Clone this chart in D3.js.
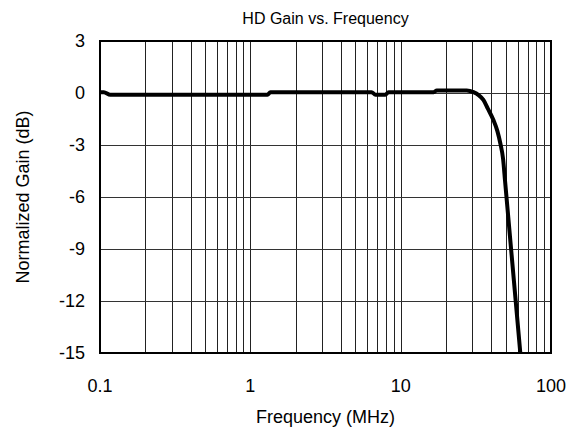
<!DOCTYPE html>
<html>
<head>
<meta charset="utf-8">
<script src="https://cdn.jsdelivr.net/npm/d3@7"></script>
<style>
  body { margin: 0; background: #fff; }
  text { font-family: "Liberation Sans", Arial, sans-serif; fill: #000; }
</style>
</head>
<body>
<div class="chart"></div>
<script>

// Data
var frequency = [0.1, 0.106, 0.117, 0.3, 1.0, 1.3, 1.36, 3, 6.4, 6.8, 7.9, 8.3, 12, 16.6, 17.4, 22, 27.5, 30.5, 33, 35.5, 38, 41.4, 44, 46, 48, 49.5, 62.5];
var gain = [0.05, 0.05, -0.1, -0.1, -0.1, -0.1, 0.05, 0.05, 0.05, -0.1, -0.1, 0.05, 0.05, 0.05, 0.15, 0.15, 0.15, 0.05, -0.12, -0.4, -0.9, -1.56, -2.2, -2.9, -3.8, -5.1, -15];

var gainTicks = [3, 0, -3, -6, -9, -12, -15];
var freqTicks = [0.1, 1, 10, 100];
var freqTickLabels = ["0.1", "1", "10", "100"];

// Define dimensions
var w = 579;
var h = 434;
var margin = {top: 41, right: 28, bottom: 81, left: 100};
var plotWidth = w - margin.left - margin.right;
var plotHeight = h - margin.top - margin.bottom;

var svg = d3.select(".chart")
  .append("svg")
  .attr("width", w)
  .attr("height", h);

var plot = svg.append("g")
  .attr("transform", "translate(" + margin.left + "," + margin.top + ")");

// Scales
var x = d3.scaleLog()
  .domain([0.1, 100])
  .range([0, plotWidth]);

var y = d3.scaleLinear()
  .domain([-15, 3])
  .range([plotHeight, 0]);

// Grid values for every decade (1..9 times the decade)
var gridFreqs = [];
[0.1, 1, 10].forEach(function(decade) {
    for (var i = 2; i <= 9; i++) {
        gridFreqs.push(decade * i);
    }
});
gridFreqs = gridFreqs.concat([1, 10]);

// Vertical grid lines
plot.selectAll(".vgrid")
  .data(gridFreqs)
  .enter()
  .append("line")
  .attr("class", "vgrid")
  .attr("x1", function(d) { return Math.round(x(d)) + 0.5; })
  .attr("x2", function(d) { return Math.round(x(d)) + 0.5; })
  .attr("y1", 0)
  .attr("y2", plotHeight)
  .style("stroke", "#222")
  .style("stroke-width", 1);

// Horizontal grid lines
plot.selectAll(".hgrid")
  .data(gainTicks.slice(1, -1))
  .enter()
  .append("line")
  .attr("class", "hgrid")
  .attr("x1", 0)
  .attr("x2", plotWidth)
  .attr("y1", function(d) { return Math.round(y(d)) + 0.5; })
  .attr("y2", function(d) { return Math.round(y(d)) + 0.5; })
  .style("stroke", "#333")
  .style("stroke-width", 1);

// Plot border
plot.append("rect")
  .attr("x", 0)
  .attr("y", 0)
  .attr("width", plotWidth)
  .attr("height", plotHeight)
  .style("fill", "none")
  .style("stroke", "#000")
  .style("stroke-width", 2);

// Gain curve
var data = frequency.map(function(f, i) { return {f: f, g: gain[i]}; });

var line = d3.line()
  .x(function(d) { return x(d.f); })
  .y(function(d) { return y(d.g); })
  .curve(d3.curveMonotoneX);

plot.append("path")
  .datum(data)
  .attr("d", line)
  .style("fill", "none")
  .style("stroke", "#000")
  .style("stroke-width", 4)
  .style("stroke-linejoin", "round");

// Y tick labels
plot.selectAll(".ylabel")
  .data(gainTicks)
  .enter()
  .append("text")
  .attr("class", "ylabel")
  .attr("x", -15)
  .attr("y", function(d) { return y(d); })
  .attr("dy", "0.36em")
  .attr("text-anchor", "end")
  .style("font-size", "18px")
  .text(function(d) { return d; });

// X tick labels
plot.selectAll(".xlabel")
  .data(freqTicks)
  .enter()
  .append("text")
  .attr("class", "xlabel")
  .attr("x", function(d) { return x(d); })
  .attr("y", plotHeight + 39)
  .attr("text-anchor", "middle")
  .style("font-size", "18px")
  .text(function(d, i) { return freqTickLabels[i]; });

// Titles
svg.append("text")
  .attr("x", margin.left + plotWidth / 2)
  .attr("y", 24)
  .attr("text-anchor", "middle")
  .style("font-size", "16px")
  .text("HD Gain vs. Frequency");

svg.append("text")
  .attr("x", margin.left + plotWidth / 2)
  .attr("y", 423)
  .attr("text-anchor", "middle")
  .style("font-size", "18px")
  .text("Frequency (MHz)");

svg.append("text")
  .attr("transform", "translate(29," + (margin.top + plotHeight / 2) + ") rotate(-90)")
  .attr("text-anchor", "middle")
  .style("font-size", "18px")
  .text("Normalized Gain (dB)");

</script>
</body>
</html>
